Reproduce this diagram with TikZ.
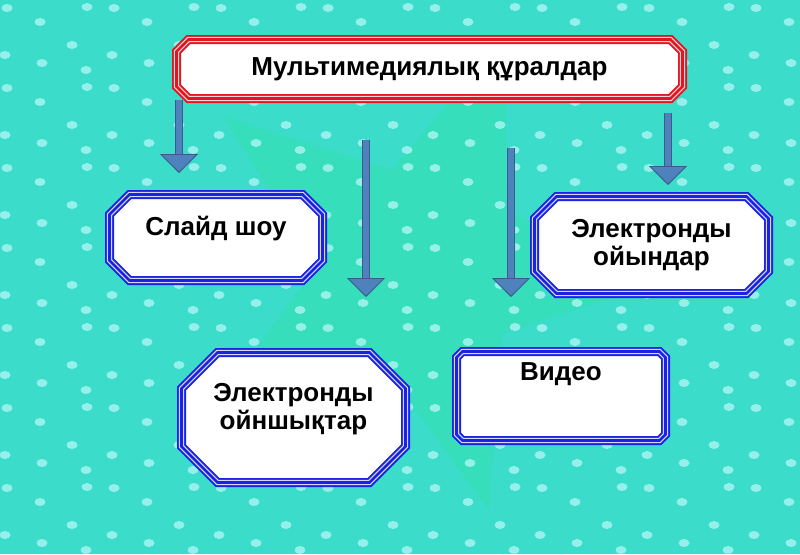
\documentclass[tikz,border=0pt]{standalone}
\usepackage{fontspec}
\setmainfont{Liberation Sans}
\usetikzlibrary{shapes.geometric, arrows.meta, backgrounds}
\definecolor{fonTurk}{RGB}{60,220,203}
\definecolor{fonDot}{RGB}{165,244,242}
\definecolor{fonStar}{RGB}{40,228,140}
\definecolor{ramkaBlue}{RGB}{25,35,225}
\definecolor{ramkaRed}{RGB}{226,22,32}
\definecolor{strelkaBlue}{RGB}{79,129,189}
\definecolor{strelkaEdge}{RGB}{56,93,138}
\tikzset{
  mm/box/.style={rectangle, align=center, inner sep=2pt, outer sep=0pt,
    font=\fontsize{26}{28}\selectfont\bfseries, text=black},
  mm/frame/.style={line join=miter,
    preaction={fill=white, draw=#1, line width=9pt},
    preaction={draw=#1!18!white, line width=5.2pt},
    draw=#1, line width=2.6pt},
  mm/frame/.default=ramkaBlue,
  mm/arr/.style={draw=strelkaEdge, double=strelkaBlue, line width=0.9pt,
    double distance=6.4pt,
    -{Triangle[width=38pt, length=19pt, fill=strelkaBlue, color=strelkaEdge,
      line width=0.9pt]}},
  mm/dot/.style={fill=fonDot, opacity=0.85}
}
% chamfered frame around a node: [colour]{node}{chamfer}
\newcommand{\ramka}[3][ramkaBlue]{%
  \draw[mm/frame=#1] ([xshift=#3]#2.north west) -- ([xshift=-#3]#2.north east)
    -- ([yshift=-#3]#2.north east) -- ([yshift=#3]#2.south east)
    -- ([xshift=-#3]#2.south east) -- ([xshift=#3]#2.south west)
    -- ([yshift=#3]#2.south west) -- ([yshift=-#3]#2.north west) -- cycle;}
\begin{document}
\begin{tikzpicture}[x=1pt, y=-1pt]
  \useasboundingbox (0,0) rectangle (800,554);
  \clip (0,0) rectangle (800,554);
  % fon
  \begin{scope}[on background layer]
    \fill[fonTurk] (0,0) rectangle (800,554);
    \node[star, star points=5, star point ratio=2.4, minimum size=500pt,
          fill=fonStar, opacity=0.25, rotate=52, inner sep=0pt] (bgstar) at (420,270) {};
    \foreach \tx in {0,107,...,856}
      \foreach \ty in {0,80,...,560}
        \foreach \dx/\dy in {40/22, 42/63, 87/7, 86/70, 72/45, 5/55, 7/8}
          \fill[mm/dot] (\tx+\dx, \ty+\dy) ellipse (5.5 and 4);
  \end{scope}

  \node[mm/box, minimum width=506pt, minimum height=59pt]
        at (429.5,69) (top) {Мультимедиялық құралдар};
  \node[mm/box, minimum width=213pt, minimum height=86pt, text depth=23pt]
        at (216,237.5) (slayd) {Слайд шоу};
  \node[mm/box, minimum width=234pt, minimum height=97pt]
        at (651.5,245) (oyin) {Электронды\\ойындар};
  \node[mm/box, minimum width=224pt, minimum height=130pt, text depth=21.5pt]
        at (293.5,417.5) (oyinshyq) {Электронды\\ойншықтар};
  \node[mm/box, minimum width=209pt, minimum height=89pt, text depth=49pt]
        at (561,396) (video) {Видео};

  \begin{scope}[on background layer]
    \ramka[ramkaRed]{top}{12pt}
    \ramka{slayd}{20pt}
    \ramka{oyin}{22pt}
    \ramka{oyinshyq}{36pt}
    \ramka{video}{6pt}
  \end{scope}

  % strelki
  \coordinate (a1s) at (179,100);  \coordinate (a1e) at (179,173);
  \coordinate (a2s) at (366,140);  \coordinate (a2e) at (366,297);
  \coordinate (a3s) at (511,148);  \coordinate (a3e) at (511,297);
  \coordinate (a4s) at (668,113);  \coordinate (a4e) at (668,185);
  \draw[mm/arr] (a1s) -- (a1e);
  \draw[mm/arr] (a2s) -- (a2e);
  \draw[mm/arr] (a3s) -- (a3e);
  \draw[mm/arr] (a4s) -- (a4e);
\end{tikzpicture}
\end{document}
